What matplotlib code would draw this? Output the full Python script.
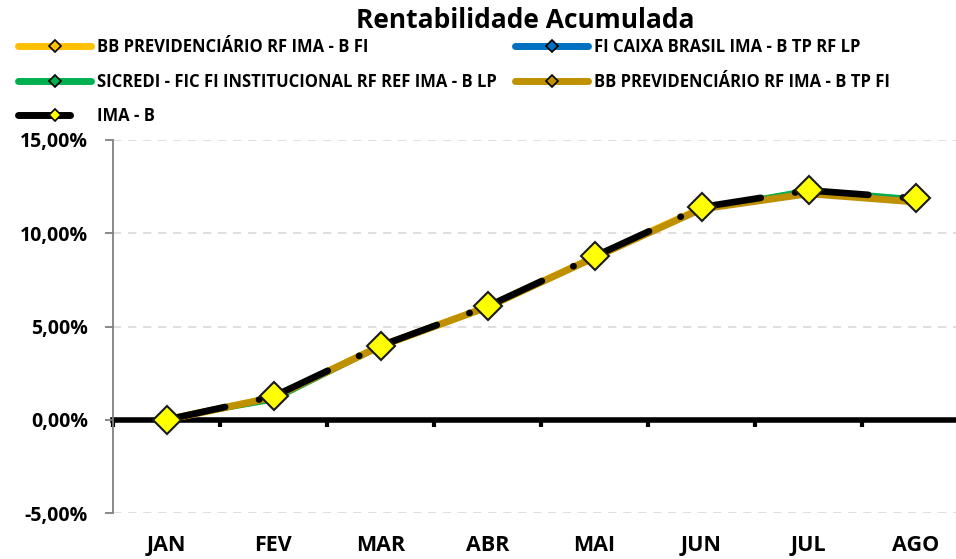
import matplotlib
matplotlib.use("Agg")
import matplotlib.pyplot as plt
from matplotlib.lines import Line2D
from matplotlib.ticker import FuncFormatter
import numpy as np

plt.rcParams['font.family'] = ['Open Sans', 'DejaVu Sans']
plt.rcParams['font.weight'] = 'bold'

months = ["JAN", "FEV", "MAR", "ABR", "MAI", "JUN", "JUL", "AGO"]
bb_prev_rf = [0.0, 1.20, 3.95, 6.05, 8.72, 11.35, 12.20, 11.75]
caixa = [0.0, 1.05, 3.90, 6.02, 8.72, 11.38, 12.35, 11.90]
sicredi = [0.0, 0.98, 3.85, 5.98, 8.68, 11.35, 12.40, 11.92]
bb_prev_tp = [0.0, 1.20, 3.95, 6.05, 8.70, 11.30, 12.12, 11.68]
ima_b = [0.0, 1.25, 3.97, 6.08, 8.76, 11.40, 12.30, 11.87]

names = ["BB PREVIDENCIÁRIO RF IMA - B FI",
         "FI CAIXA BRASIL IMA - B TP RF LP",
         "SICREDI - FIC FI INSTITUCIONAL RF REF IMA - B LP",
         "BB PREVIDENCIÁRIO RF IMA - B TP FI",
         "IMA - B"]
colors = ["#FFC000", "#0070C0", "#00B050", "#BF9000", "#000000"]
yticks = [-5, 0, 5, 10, 15]

W, H = 956, 559
fig = plt.figure(figsize=(W / 100, H / 100), dpi=100)
ax = fig.add_axes([113 / W, 46 / H, 856 / W, 373 / H])

x = np.arange(len(months))
lw_thick = 5.0
ax.plot(x, bb_prev_rf, color=colors[0], lw=lw_thick, solid_capstyle='round', zorder=2)
ax.plot(x, caixa, color=colors[1], lw=1.6, zorder=3)
ax.plot(x, bb_prev_tp, color=colors[3], lw=lw_thick, solid_capstyle='round', zorder=4)
ax.plot(x, sicredi, color=colors[2], lw=1.6, zorder=3.5)

dash_pattern = (9.0, 5.2, 0.05, 5.2)
for i in range(len(x) - 1):
    seg, = ax.plot(x[i:i + 2], ima_b[i:i + 2], color='black', lw=4.8,
                   dash_capstyle='round', zorder=5)
    seg.set_dashes(dash_pattern)
ax.plot(x, ima_b, ls='none', marker='D', ms=14, mfc='#FFFF00', mec='#1a1a1a',
        mew=1.5, zorder=6)

ax.set_xlim(-0.5, len(months) - 0.5)
ax.set_ylim(yticks[0], yticks[-1])
ax.set_yticks(yticks)
ax.yaxis.set_major_formatter(FuncFormatter(lambda v, p: f"{v:.2f}%".replace('.', ',')))
ax.set_xticks(x)
ax.set_xticklabels(months)
ax.tick_params(axis='x', length=0, pad=16, labelsize=15.5)
ax.tick_params(axis='y', length=6, width=1.3, color='#808080', direction='out',
               labelsize=14, pad=12)
for lab in ax.get_xticklabels() + ax.get_yticklabels():
    lab.set_fontweight('bold')

for s in ['top', 'right', 'bottom']:
    ax.spines[s].set_visible(False)
ax.spines['left'].set_color('#808080')
ax.spines['left'].set_linewidth(1.3)

for v in yticks:
    if v != 0:
        ax.axhline(v, color='#D9D9D9', lw=1.2, ls=(0, (5, 4)), zorder=0)

frac0 = (0 - yticks[0]) / (yticks[-1] - yticks[0])
sec = ax.secondary_xaxis(frac0)
sec.set_xticks(np.arange(-0.5, len(months) + 0.5, 1.0))
sec.tick_params(axis='x', direction='out', length=5, width=3, color='black',
                labelbottom=False, labeltop=False)
for s in sec.spines:
    sec.spines[s].set_visible(False)
sec.spines['bottom'].set_visible(True)
sec.spines['bottom'].set_linewidth(4)
sec.spines['bottom'].set_color('black')
sec.spines['bottom'].set_zorder(1)

fig.text(525 / W, 1 - 20 / H, "Rentabilidade Acumulada", ha='center', va='center',
         fontsize=19, fontweight='bold')

handles = []
for i, (n, c) in enumerate(zip(names, colors)):
    mfc = '#FFFF00' if i == 4 else c
    h = Line2D([], [], color=c, lw=5, solid_capstyle='round', dash_capstyle='round',
               marker='D', ms=6, mfc=mfc, mec='black', mew=1.2)
    if i == 4:
        h.set_dashes((7.5, 10))
    handles.append(h)

leg_kw = dict(loc='upper left', frameon=False, fontsize=12, handlelength=4.4,
              handletextpad=0.36, labelspacing=1.0, borderaxespad=0, borderpad=0)
leg1 = fig.legend([handles[i] for i in [0, 2, 4]], [names[i] for i in [0, 2, 4]],
                  bbox_to_anchor=(18 / W, 1 - 38 / H), **leg_kw)
leg2 = fig.legend([handles[i] for i in [1, 3]], [names[i] for i in [1, 3]],
                  bbox_to_anchor=(515 / W, 1 - 38 / H), **leg_kw)
for leg in (leg1, leg2):
    for t in leg.get_texts():
        t.set_fontweight('bold')

fig.savefig("out.png", dpi=100)
